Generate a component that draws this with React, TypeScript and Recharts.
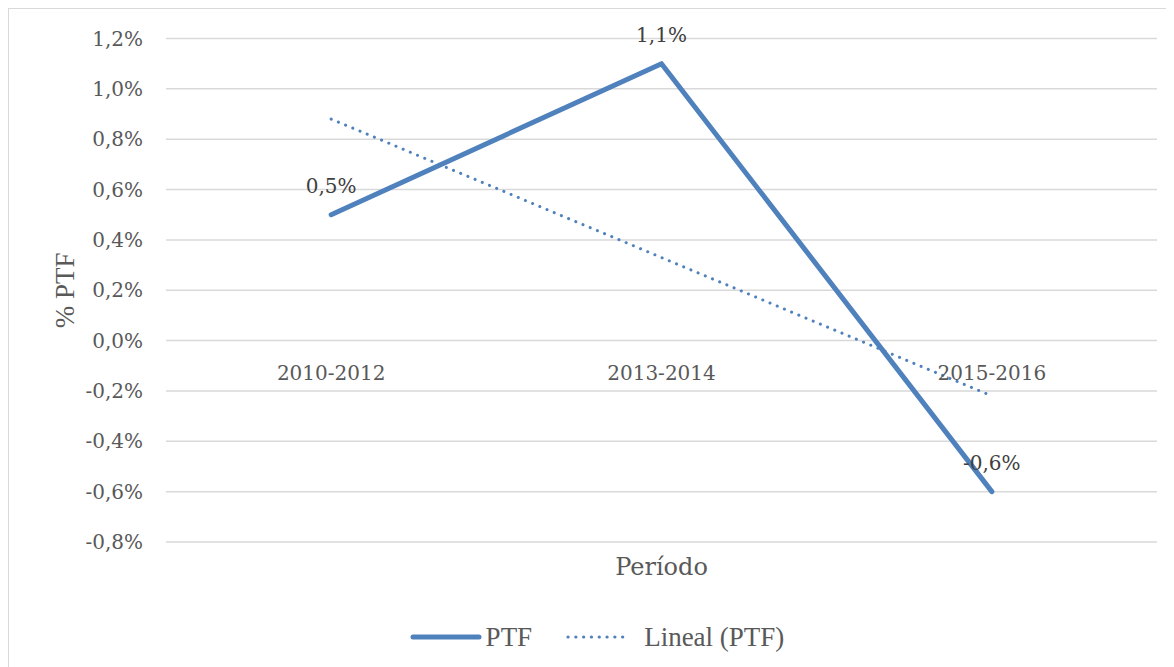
import React from "react"
import { CartesianGrid, LabelList, Legend, Line, LineChart, XAxis, YAxis } from "recharts"

const periods = ["2010-2012", "2013-2014", "2015-2016"]
const ptf = [0.5, 1.1, -0.6]
const lineal = [0.88, 0.33, -0.22]
const yTicks = [-0.8, -0.6, -0.4, -0.2, 0, 0.2, 0.4, 0.6, 0.8, 1.0, 1.2]

const data = periods.map((p, i) => ({ name: p, ptf: ptf[i], trend: lineal[i] }))

const W = 1166
const H = 660
const M = { top: 29.5, right: 18, bottom: 12, left: 0 }
const Y_AXIS_W = 157
const LEGEND_H = 40
const XAXIS_H = 75
const PLOT_H = H - M.top - M.bottom - LEGEND_H - XAXIS_H
const PLOT_W = W - M.left - M.right - Y_AXIS_W
const BAND_PAD = PLOT_W / periods.length / 2
const Y_MIN = -0.8
const Y_MAX = 1.2
const ZERO_Y = M.top + (PLOT_H * Y_MAX) / (Y_MAX - Y_MIN)

const BLUE = "#4f81bd"
const cambria = "'DejaVu Serif', serif"
const times = "'Liberation Serif', 'Times New Roman', serif"

const pct = (v: number) => v.toFixed(1).replace(".", ",") + "%"

function XTick(props: any) {
  const { x, payload } = props
  return (
    <text x={x} y={ZERO_Y + 32} textAnchor="middle" dominantBaseline="central"
      fill="#595959" fontSize={20} fontFamily={cambria}>
      {payload.value}
    </text>
  )
}

function LegendBox() {
  return (
    <div style={{ display: "flex", alignItems: "center", justifyContent: "center", height: LEGEND_H,
      fontFamily: times, fontSize: 27, color: "#595959", paddingLeft: 28 }}>
      <svg width={72} height={10} style={{ marginRight: 4 }}>
        <line x1={3} y1={5} x2={69} y2={5} stroke={BLUE} strokeWidth={5} strokeLinecap="round" />
      </svg>
      <span>PTF</span>
      <svg width={66} height={10} style={{ marginLeft: 34, marginRight: 12 }}>
        <line x1={2} y1={5} x2={64} y2={5} stroke={BLUE} strokeWidth={3.2}
          strokeDasharray="0.1 7.7" strokeLinecap="round" />
      </svg>
      <span>Lineal (PTF)</span>
    </div>
  )
}

export default function App() {
  return (
    <div style={{ width: W, height: H, border: "1px solid #d9d9d9", background: "#fff" }}>
      <LineChart width={W} height={H} data={data} margin={M}>
        <CartesianGrid vertical={false} stroke="#d9d9d9" strokeWidth={1.5} />
        <XAxis
          dataKey="name"
          height={XAXIS_H}
          padding={{ left: BAND_PAD, right: BAND_PAD }}
          axisLine={false}
          tickLine={false}
          tick={<XTick />}
          label={{ value: "Período", position: "insideTop", offset: 16, fill: "#595959", fontSize: 24, fontFamily: cambria }}
        />
        <YAxis
          width={Y_AXIS_W}
          domain={[Y_MIN, Y_MAX]}
          ticks={yTicks}
          interval={0}
          axisLine={false}
          tickLine={false}
          tickMargin={17}
          tickFormatter={pct}
          tick={{ fill: "#595959", fontSize: 20, fontFamily: cambria }}
          label={{
            content: (p: any) => {
              const vb = p.viewBox
              const cx = vb.x + 56
              const cy = vb.y + vb.height / 2
              return (
                <text x={cx} y={cy} transform={`rotate(-90 ${cx} ${cy})`} textAnchor="middle"
                  dominantBaseline="central" fill="#595959" fontSize={27} fontFamily={times}>
                  % PTF
                </text>
              )
            },
          }}
        />
        <Legend verticalAlign="bottom" height={LEGEND_H} content={<LegendBox />} />
        <Line
          dataKey="ptf"
          name="PTF"
          stroke={BLUE}
          strokeWidth={5}
          strokeLinecap="round"
          strokeLinejoin="round"
          dot={false}
          activeDot={false}
          isAnimationActive={false}
        >
          <LabelList dataKey="ptf" position="top" offset={22} formatter={(v: any) => pct(Number(v))}
            fill="#404040" fontSize={20} fontFamily={cambria} />
        </Line>
        <Line
          dataKey="trend"
          name="Lineal (PTF)"
          stroke={BLUE}
          strokeWidth={3}
          strokeDasharray="0.1 7.7"
          strokeLinecap="round"
          dot={false}
          activeDot={false}
          isAnimationActive={false}
        />
      </LineChart>
    </div>
  )
}
